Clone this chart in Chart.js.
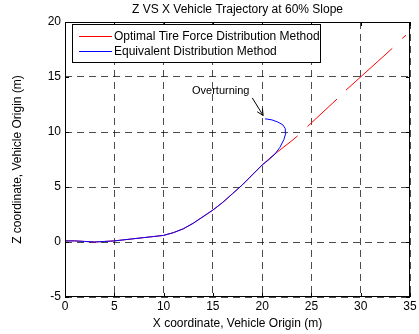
<!DOCTYPE html>
<html>
<head>
<meta charset="utf-8">
<script src="https://cdn.jsdelivr.net/npm/chart.js@4/dist/chart.umd.min.js"></script>
<style>
  html, body { margin: 0; padding: 0; background: #fff; }
  #wrap { width: 419px; height: 334px; }
</style>
</head>
<body>
<div id="wrap"><canvas id="grafico" width="419" height="334"></canvas></div>
<script>
// dados
const optimalX = [0, 1, 2, 3, 4, 5, 6, 7, 8, 9, 10, 11, 12, 13, 14, 15, 16, 17, 18, 19, 20, 21, 22, 23, 23.6, null, 24.6, 27.6, null, 28.5, 33.2, null, 34.2, 34.6];
const optimalZ = [0.1, 0.1, 0.05, 0, 0.05, 0.1, 0.2, 0.3, 0.4, 0.5, 0.6, 0.85, 1.2, 1.7, 2.3, 2.9, 3.6, 4.4, 5.2, 6.1, 7.0, 7.8, 8.5, 9.2, 9.65, null, 10.5, 13.0, null, 13.8, 17.6, null, 18.5, 18.8];
const equivX = [0, 1, 2, 3, 4, 5, 6, 7, 8, 9, 10, 11, 12, 13, 14, 15, 16, 17, 18, 19, 20, 20.7, 21.3, 21.8, 22.2, 22.4, 22.35, 22.1, 21.6, 21.0, 20.3];
const equivZ = [0.1, 0.1, 0.05, 0, 0.05, 0.1, 0.2, 0.3, 0.4, 0.5, 0.6, 0.85, 1.2, 1.7, 2.3, 2.9, 3.6, 4.4, 5.2, 6.1, 7.0, 7.5, 8.0, 8.6, 9.3, 9.9, 10.3, 10.65, 10.9, 11.1, 11.2];
const xTicks = [0, 5, 10, 15, 20, 25, 30, 35];
const zTicks = [-5, 0, 5, 10, 15, 20];
const seriesNames = ["Optimal Tire Force Distribution Method", "Equivalent Distribution Method"];
const noteText = "Overturning";
const notePos = [15.8, 13.7];
const arrowFrom = [19.0, 13.1];
const arrowTo = [20.1, 11.5];

const FONT = "'Liberation Sans', Arial, sans-serif";

function toPoints(xs, zs) {
  return xs.map((x, i) => ({ x: x, y: x === null ? null : zs[i] }));
}

// moldura, ticks internos, legenda e anotação
const extras = {
  id: "extras",
  afterDatasetsDraw(chart) {
    const ctx = chart.ctx;
    const a = chart.chartArea;
    const xs = chart.scales.x;
    const ys = chart.scales.y;
    ctx.save();

    // anotação
    ctx.fillStyle = "#000";
    ctx.font = "11px " + FONT;
    ctx.textAlign = "center";
    ctx.textBaseline = "middle";
    ctx.fillText(noteText, xs.getPixelForValue(notePos[0]), ys.getPixelForValue(notePos[1]));
    const x1 = xs.getPixelForValue(arrowFrom[0]), y1 = ys.getPixelForValue(arrowFrom[1]);
    const x2 = xs.getPixelForValue(arrowTo[0]), y2 = ys.getPixelForValue(arrowTo[1]);
    ctx.strokeStyle = "#000";
    ctx.lineWidth = 1;
    ctx.beginPath();
    ctx.moveTo(x1, y1);
    ctx.lineTo(x2, y2);
    ctx.stroke();
    const ang = Math.atan2(y2 - y1, x2 - x1);
    ctx.beginPath();
    ctx.moveTo(x2, y2);
    ctx.lineTo(x2 - 7 * Math.cos(ang - 0.45), y2 - 7 * Math.sin(ang - 0.45));
    ctx.moveTo(x2, y2);
    ctx.lineTo(x2 - 7 * Math.cos(ang + 0.45), y2 - 7 * Math.sin(ang + 0.45));
    ctx.stroke();

    // moldura
    ctx.strokeStyle = "#000";
    ctx.lineWidth = 1;
    ctx.strokeRect(a.left + 0.5, a.top + 0.5, a.right - a.left - 1, a.bottom - a.top - 1);
    ctx.beginPath();
    xTicks.forEach(v => {
      const p = Math.round(xs.getPixelForValue(v)) + 0.5;
      ctx.moveTo(p, a.bottom); ctx.lineTo(p, a.bottom - 4);
      ctx.moveTo(p, a.top); ctx.lineTo(p, a.top + 4);
    });
    zTicks.forEach(v => {
      const p = Math.round(ys.getPixelForValue(v)) + 0.5;
      ctx.moveTo(a.left, p); ctx.lineTo(a.left + 4, p);
      ctx.moveTo(a.right, p); ctx.lineTo(a.right - 4, p);
    });
    ctx.stroke();

    // legenda
    const lx = a.left + 7, ly = a.top + 2, lw = 248, lh = 38;
    ctx.fillStyle = "#fff";
    ctx.fillRect(lx, ly, lw, lh);
    ctx.strokeRect(lx + 0.5, ly + 0.5, lw, lh);
    ctx.font = "12px " + FONT;
    ctx.textAlign = "left";
    ctx.fillStyle = "#000";
    chart.data.datasets.forEach((ds, i) => {
      const yy = ly + 12 + i * 15;
      ctx.strokeStyle = ds.borderColor;
      ctx.beginPath();
      ctx.moveTo(lx + 7, yy + 0.5);
      ctx.lineTo(lx + 40, yy + 0.5);
      ctx.stroke();
      ctx.fillText(ds.label, lx + 42, yy + 1);
    });
    ctx.restore();
  }
};

let chartInstance = new Chart(document.getElementById("grafico"), {
  type: "scatter",
  data: {
    datasets: [
      {
        label: seriesNames[0],
        data: toPoints(optimalX, optimalZ),
        showLine: true,
        spanGaps: false,
        borderColor: "#ff0000",
        borderWidth: 1,
        pointRadius: 0,
        order: 1,
      },
      {
        label: seriesNames[1],
        data: toPoints(equivX, equivZ),
        showLine: true,
        borderColor: "#0000ff",
        borderWidth: 1,
        pointRadius: 0,
        order: 0,
      },
    ],
  },
  options: {
    responsive: false,
    animation: false,
    layout: { padding: { left: 0, right: 9, top: 0, bottom: 0 } },
    plugins: {
      legend: { display: false },
      tooltip: { enabled: false },
      title: {
        display: true,
        fullSize: false,
        text: "Z VS X Vehicle Trajectory at 60% Slope",
        color: "#000",
        font: { family: FONT, size: 12, weight: "normal" },
        padding: { top: 2, bottom: 5.6 },
      },
    },
    scales: {
      x: {
        type: "linear",
        min: 0,
        max: 35,
        afterBuildTicks: s => { s.ticks = xTicks.map(v => ({ value: v })); },
        afterFit: s => { s.height = 37; },
        ticks: { color: "#000", font: { family: FONT, size: 12 }, padding: 2, maxRotation: 0 },
        grid: { color: "rgba(0,0,0,0.7)", lineWidth: 1, drawTicks: false },
        border: { display: false, dash: [7, 5] },
        title: {
          display: true,
          text: "X coordinate, Vehicle Origin (m)",
          color: "#000",
          font: { family: FONT, size: 12 },
          padding: { top: 0, bottom: 3 },
        },
      },
      y: {
        type: "linear",
        min: -5,
        max: 20,
        afterBuildTicks: s => { s.ticks = zTicks.map(v => ({ value: v })); },
        afterFit: s => { s.width = 65; },
        ticks: { color: "#000", font: { family: FONT, size: 12 }, padding: 4 },
        grid: { color: "rgba(0,0,0,0.7)", lineWidth: 1, drawTicks: false },
        border: { display: false, dash: [7, 5] },
        title: {
          display: true,
          text: "Z coordinate, Vehicle Origin (m)",
          color: "#000",
          font: { family: FONT, size: 12 },
          padding: { top: 10, bottom: 0 },
        },
      },
    },
  },
  plugins: [extras],
});
</script>
</body>
</html>
